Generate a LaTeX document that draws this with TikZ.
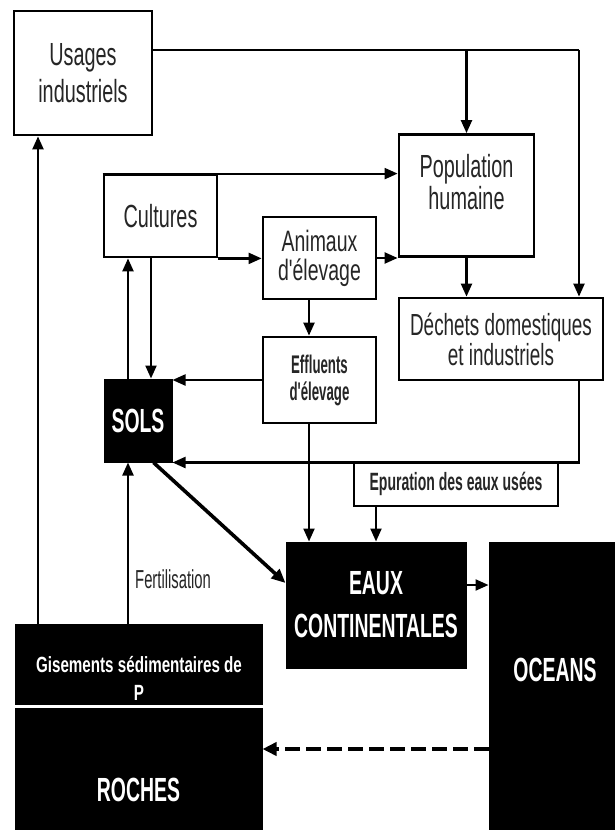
\documentclass[tikz,border=0pt]{standalone}
\usepackage{fontspec}
\setmainfont{Liberation Sans}
\newfontfamily\fReg{Liberation Sans}[FakeStretch=0.62]
\newfontfamily\fAni{Liberation Sans}[FakeStretch=0.66]
\newfontfamily\fFert{Liberation Sans}[FakeStretch=0.57]
\newfontfamily\fEff{Liberation Sans}[FakeStretch=0.52]
\newfontfamily\fEpu{Liberation Sans}[FakeStretch=0.56]
\newfontfamily\fGis{Liberation Sans}[FakeStretch=0.69]
\newfontfamily\fBig{Liberation Sans}[FakeStretch=0.58]
\usetikzlibrary{arrows.meta}
\tikzset{
  wbox/.style={draw=black, line width=2.8pt, fill=white, inner sep=0pt, align=center, text=black!85},
  bbox/.style={draw=black, fill=black, line width=1pt, inner sep=0pt, text=white, align=center},
  wtxt/.style={text=white, inner sep=0pt, align=center},
  plainline/.style={line width=2.2pt},
  conn/.style={line width=2.2pt, -{Triangle[length=13pt,width=11pt]}},
  diagconn/.style={line width=3.6pt, -{Triangle[length=14pt,width=12pt]}},
  dashconn/.style={line width=3.6pt, dash pattern=on 15pt off 6pt, -{Triangle[length=14pt,width=13pt]}},
  bigfont/.style={font=\fReg\fontsize{32}{37}\selectfont},
  blackfont/.style={font=\fBig\bfseries\fontsize{33.5}{43}\selectfont},
}
\begin{document}
\begin{tikzpicture}[x=1pt,y=-1pt]
\useasboundingbox (0,0) rectangle (614,830);
\fill[white] (0,0) rectangle (614,830);

% white boxes
\node[wbox, bigfont, minimum width=138pt, minimum height=124pt] (usages) at (83,73) {Usages\\industriels};
\node[wbox, minimum width=135pt, minimum height=122pt] (pop) at (466.5,195.5) {};
\node[inner sep=0pt, align=center, text=black!85, font=\fReg\fontsize{32}{32}\selectfont] (poptxt) at (466.5,182.5) {Population\\humaine};
\node[wbox, font=\fReg\fontsize{30.5}{30}\selectfont, minimum width=204pt, minimum height=82pt] (dechets) at (501,339) {Déchets domestiques\\et industriels};
\node[wbox, bigfont, minimum width=113pt, minimum height=82pt] (cultures) at (160.5,216) {Cultures};
\node[wbox, font=\fAni\fontsize{29.5}{29}\selectfont, minimum width=113pt, minimum height=82pt] (animaux) at (319.5,258) {Animaux\\d'élevage};
\node[wbox, font=\fEff\bfseries\fontsize{25.5}{27}\selectfont, minimum width=113pt, minimum height=86pt] (effluents) at (319.5,380) {Effluents\\d'élevage};
\node[wbox, font=\fEpu\bfseries\fontsize{25}{30}\selectfont, minimum width=204pt, minimum height=44pt] (epuration) at (456,484) {Epuration des eaux usées};

% black boxes
\node[bbox, blackfont, minimum width=68pt, minimum height=83pt] (sols) at (138,420.5) {SOLS};
\node[bbox, blackfont, minimum width=180pt, minimum height=126pt] (eaux) at (376,605) {EAUX\\CONTINENTALES};
\node[bbox, minimum width=135pt, minimum height=300pt] (oceans) at (556.5,692) {};
\node[wtxt, blackfont] (oceanstxt) at (555,669.5) {OCEANS};
\node[bbox, minimum width=247pt, minimum height=80pt] (gis) at (138.5,664) {};
\node[wtxt, font=\fGis\bfseries\fontsize{22}{28}\selectfont] (gistxt) at (139,678) {Gisements sédimentaires de\\P};
\node[bbox, minimum width=247pt, minimum height=130pt] (roches) at (138.5,773) {};
\node[wtxt, blackfont] (rochestxt) at (138.5,790) {ROCHES};

% helper coordinates
\coordinate (yTop) at (0,50);
\coordinate (xR) at (579,0);
\coordinate (xM) at (309,0);
\coordinate (xS1) at (128,0);
\coordinate (xS2) at (151,0);
\coordinate (xL) at (38,0);
\coordinate (yD) at (0,749);

% connectors
\draw[plainline] (usages.east |- yTop) -- (xR |- yTop);
\draw[conn] (xR |- yTop) -- (xR |- dechets.north);
\draw[conn] (pop.north |- yTop) -- (pop.north);
\draw[conn] (pop.south) -- (pop.south |- dechets.north);
\draw[conn] (cultures.north west) -- (cultures.north west -| pop.west);
\draw[conn] (cultures.south east) -- (cultures.south east -| animaux.west);
\draw[conn] (animaux.east) -- (animaux.east -| pop.west);
\draw[conn] (animaux.south -| xM) -- (effluents.north -| xM);
\draw[conn] (effluents.south -| xM) -- (eaux.north -| xM);
\draw[conn] (sols.north -| xS1) -- (cultures.south -| xS1);
\draw[conn] (cultures.south -| xS2) -- (sols.north -| xS2);
\draw[conn] (effluents.west) -- (effluents.west -| sols.east);
\draw[conn] (xR |- dechets.south) |- (sols.south east);
\draw[conn] (epuration.south -| eaux.north) -- (eaux.north);
\draw[diagconn] ([xshift=-19pt]sols.south east) -- ([yshift=22pt]eaux.west);
\draw[conn] ([yshift=20pt]eaux.east) -- ([yshift=20pt]eaux.east -| oceans.west);
\draw[conn] (gis.north -| xL) -- (usages.south -| xL);
\draw[conn] (gis.north -| xS1) -- (sols.south -| xS1);
\node[anchor=west, inner sep=0pt, text=black!85, font=\fFert\fontsize{26}{30}\selectfont] (fert) at (135,579) {Fertilisation};
\draw[dashconn] (oceans.west |- yD) -- (roches.east |- yD);
\end{tikzpicture}
\end{document}
